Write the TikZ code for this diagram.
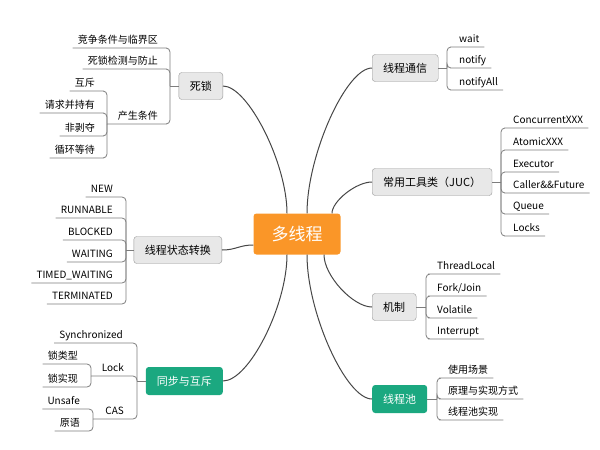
\documentclass[tikz,border=0pt]{standalone}
\usepackage{fontspec}
\setmainfont{Noto Sans CJK SC}
\usetikzlibrary{calc}
\definecolor{hubcol}{RGB}{250,150,40}
\definecolor{greencol}{RGB}{27,168,128}
\definecolor{boxcol}{RGB}{232,232,232}
\definecolor{edgecol}{RGB}{150,150,150}
\definecolor{linecol}{RGB}{70,70,70}
\definecolor{leafcol}{RGB}{125,125,125}
\tikzset{
  topic/.style={draw=edgecol,fill=boxcol,rounded corners=3pt,inner xsep=11pt,minimum height=27pt,font=\fontsize{11}{13}\selectfont},
  hot/.style={fill=greencol,text=white,rounded corners=3pt,inner xsep=11pt,minimum height=28pt,font=\fontsize{11}{13}\selectfont},
  leaf/.style={inner xsep=5pt,inner ysep=0pt,text height=9pt,text depth=4.5pt,font=\fontsize{10}{12}\selectfont},
  branch/.style={draw=linecol,line width=1pt},
  twig/.style={draw=leafcol,line width=0.8pt,rounded corners=4pt}
}
\begin{document}
\begin{tikzpicture}[x=1pt,y=-1pt]
\useasboundingbox (0,0) rectangle (600,450);
% centre
\node[fill=hubcol,text=white,rounded corners=3pt,inner xsep=18pt,minimum height=41pt,font=\fontsize{17}{20}\selectfont] (hub) at (297,234) {多线程};

% main topics
\node[topic,anchor=east] (dead) at (223,86) {死锁};
\node[topic,anchor=east] (state) at (222,250) {线程状态转换};
\node[hot,anchor=east] (sync) at (223,381) {同步与互斥};
\node[topic,anchor=west] (comm) at (372,68) {线程通信};
\node[topic,anchor=west] (juc) at (372,182) {常用工具类（JUC）};
\node[topic,anchor=west] (mech) at (372,307) {机制};
\node[hot,anchor=west] (pool) at (372,399) {线程池};

% hub branches
\coordinate (hubN1) at ($(hub.north)+(-10,0)$);
\coordinate (hubN2) at ($(hub.north)+(10,0)$);
\coordinate (hubN3) at ($(hub.north)+(35,0)$);
\coordinate (hubS1) at ($(hub.south)+(-10,0)$);
\coordinate (hubS2) at ($(hub.south)+(10,0)$);
\coordinate (hubS3) at ($(hub.south)+(27,0)$);
\coordinate (hubL) at ($(hub.west)+(0,11)$);
\draw[branch] (dead.east) .. controls +(25,0) and +(0,-50) .. (hubN1);
\draw[branch] (comm.west) .. controls +(-26,0) and +(0,-58) .. (hubN2);
\draw[branch] (juc.west) .. controls +(-16,0) and +(0,-12) .. (hubN3);
\draw[branch] (state.east) .. controls +(14,0) and +(-14,0) .. (hubL);
\draw[branch] (sync.east) .. controls +(26,0) and +(0,51) .. (hubS1);
\draw[branch] (pool.west) .. controls +(-26,0) and +(0,58) .. (hubS2);
\draw[branch] (mech.west) .. controls +(-19,0) and +(0,21) .. (hubS3);

% deadlock
\coordinate (deadJ) at (170,86);
\draw[twig] (dead) -- (deadJ);
\foreach \t/\y [count=\i] in {竞争条件与临界区/48,死锁检测与防止/69}{
  \node[leaf,anchor=south east] (dead\i) at (163,\y) {\t};
  \draw[twig] (dead\i.south west) -- (dead\i.south east) -| (deadJ);
}
\node[leaf,anchor=south east] (cause) at (163,124) {产生条件};
\coordinate (causeJ) at (107,124);
\draw[twig] (causeJ) -- (cause.south west) -- (cause.south east) -| (deadJ);
\foreach \t/\y [count=\i] in {互斥/91,请求并持有/113,非剥夺/136,循环等待/158}{
  \node[leaf,anchor=south east] (cause\i) at (100,\y) {\t};
  \draw[twig] (cause\i.south west) -- (cause\i.south east) -| (causeJ);
}

% thread states
\coordinate (stateJ) at (126,250);
\draw[twig] (state) -- (stateJ);
\foreach \t/\y [count=\i] in {NEW/197,RUNNABLE/218,BLOCKED/240,WAITING/262,TIMED\_WAITING/283,TERMINATED/304}{
  \node[leaf,anchor=south east] (state\i) at (118,\y) {\t};
  \draw[twig] (state\i.south west) -- (state\i.south east) -| (stateJ);
}

% synchronisation
\coordinate (syncJ) at (137,381);
\draw[twig] (sync) -- (syncJ);
\node[leaf,anchor=south east] (syn) at (128,343) {Synchronized};
\draw[twig] (syn.south west) -- (syn.south east) -| (syncJ);
\node[leaf,anchor=south east] (lock) at (129,376) {Lock};
\coordinate (lockJ) at (91,376);
\draw[twig] (lockJ) -- (lock.south west) -- (lock.south east) -| (syncJ);
\foreach \t/\y [count=\i] in {锁类型/364,锁实现/387}{
  \node[leaf,anchor=south east] (lock\i) at (83,\y) {\t};
  \draw[twig] (lock\i.south west) -- (lock\i.south east) -| (lockJ);
}
\node[leaf,anchor=south east] (cas) at (129,419) {CAS};
\coordinate (casJ) at (93,419);
\draw[twig] (casJ) -- (cas.south west) -- (cas.south east) -| (syncJ);
\foreach \t/\y [count=\i] in {Unsafe/409,原语/431}{
  \node[leaf,anchor=south east] (cas\i) at (85,\y) {\t};
  \draw[twig] (cas\i.south west) -- (cas\i.south east) -| (casJ);
}

% communication
\coordinate (commJ) at (447,68);
\draw[twig] (comm) -- (commJ);
\foreach \t/\y [count=\i] in {wait/47,notify/68,notifyAll/90}{
  \node[leaf,anchor=south west] (comm\i) at (454,\y) {\t};
  \draw[twig] (commJ) |- (comm\i.south west) -- (comm\i.south east);
}

% juc
\coordinate (jucJ) at (501,182);
\draw[twig] (juc) -- (jucJ);
\foreach \t/\y [count=\i] in {ConcurrentXXX/128,AtomicXXX/150,Executor/172,Caller\&\&Future/193,Queue/214,Locks/236}{
  \node[leaf,anchor=south west] (juc\i) at (508,\y) {\t};
  \draw[twig] (jucJ) |- (juc\i.south west) -- (juc\i.south east);
}

% mechanisms
\coordinate (mechJ) at (426,307);
\draw[twig] (mech) -- (mechJ);
\foreach \t/\y [count=\i] in {ThreadLocal/274,{Fork/Join}/296,Volatile/318,Interrupt/339}{
  \node[leaf,anchor=south west] (mech\i) at (432,\y) {\t};
  \draw[twig] (mechJ) |- (mech\i.south west) -- (mech\i.south east);
}

% pool
\coordinate (poolJ) at (437,399);
\draw[twig] (pool) -- (poolJ);
\foreach \t/\y [count=\i] in {使用场景/378,原理与实现方式/399,线程池实现/420}{
  \node[leaf,anchor=south west] (pool\i) at (443,\y) {\t};
  \draw[twig] (poolJ) |- (pool\i.south west) -- (pool\i.south east);
}
\end{tikzpicture}
\end{document}
